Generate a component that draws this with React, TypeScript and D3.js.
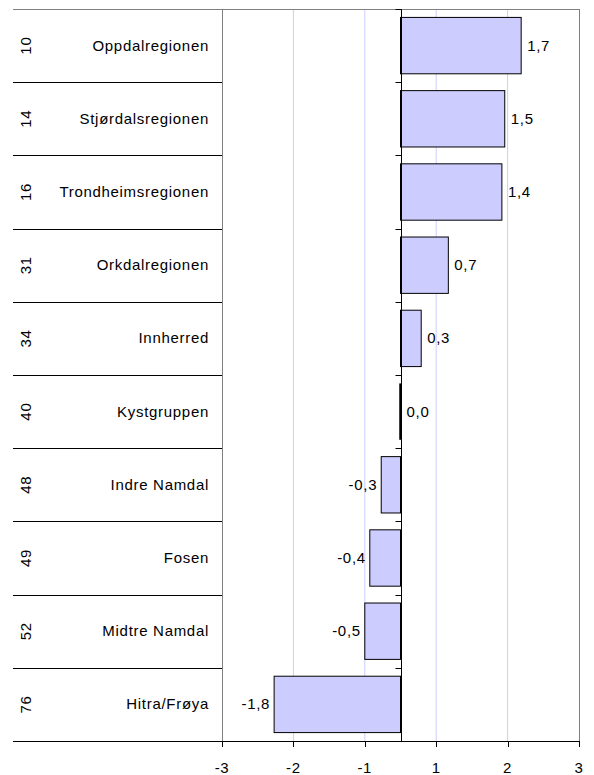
import React, { useEffect, useRef } from 'react';
import * as d3 from 'd3';

const codes = ['10', '14', '16', '31', '34', '40', '48', '49', '52', '76'];
const regions = [
  'Oppdalregionen',
  'Stjørdalsregionen',
  'Trondheimsregionen',
  'Orkdalregionen',
  'Innherred',
  'Kystgruppen',
  'Indre Namdal',
  'Fosen',
  'Midtre Namdal',
  'Hitra/Frøya',
];
const values = [1.69, 1.46, 1.42, 0.67, 0.29, 0.0, -0.27, -0.43, -0.5, -1.77];
const xTicks = [-2.5, -1.5, -0.5, 0.5, 1.5, 2.5];
const gridTicks = [-1.5, -0.5, 0.5, 1.5];

const W = 594;
const H = 775;
const FONT = '"Liberation Sans", Arial, sans-serif';

// Excel-style rounding (half away from zero), comma as decimal sign
const fmtValue = (v: number) => {
  const r = Math.sign(v) * Math.round(Math.abs(v) * 10) / 10;
  return r.toFixed(1).replace('.', ',');
};
const fmtTick = (v: number) => String(Math.sign(v) * Math.round(Math.abs(v)));

const App = () => {
  const svgRef = useRef<SVGSVGElement>(null);

  useEffect(() => {
    const svg = d3.select(svgRef.current);
    svg.selectAll('*').remove();

    const plot = { left: 222, right: 579, top: 9, bottom: 741 };
    const tableLeft = 13;

    const x = d3.scaleLinear().domain([-2.5, 2.5]).range([plot.left, plot.right]);
    const y = d3.scaleBand<string>()
      .domain(regions)
      .range([plot.top, plot.bottom])
      .paddingInner(0.23)
      .paddingOuter(0.115);
    const step = y.step();
    const boundaries = d3.range(regions.length + 1).map(i => plot.top + i * step);

    svg.append('rect').attr('width', W).attr('height', H).attr('fill', '#fff');

    // gridlines
    svg.append('g')
      .selectAll('line')
      .data(gridTicks)
      .enter().append('line')
      .attr('x1', d => x(d)).attr('x2', d => x(d))
      .attr('y1', plot.top).attr('y2', plot.bottom)
      .attr('stroke', '#ccccff')
      .attr('stroke-width', 1);

    // plot frame
    svg.append('line')
      .attr('x1', tableLeft).attr('x2', plot.right)
      .attr('y1', plot.top + 0.5).attr('y2', plot.top + 0.5)
      .attr('stroke', '#808080');
    svg.append('line')
      .attr('x1', plot.left + 0.5).attr('x2', plot.left + 0.5)
      .attr('y1', plot.top).attr('y2', plot.bottom)
      .attr('stroke', '#808080');
    svg.append('line')
      .attr('x1', plot.right + 0.5).attr('x2', plot.right + 0.5)
      .attr('y1', plot.top).attr('y2', plot.bottom)
      .attr('stroke', '#808080');

    // table row separators on the left
    svg.append('g')
      .selectAll('line')
      .data(boundaries.slice(1))
      .enter().append('line')
      .attr('x1', tableLeft).attr('x2', plot.left)
      .attr('y1', d => Math.round(d) + 0.5).attr('y2', d => Math.round(d) + 0.5)
      .attr('stroke', '#000');

    // bars
    const bars = svg.append('g');
    regions.forEach((r, i) => {
      const v = values[i];
      const x0 = x(Math.min(0, v));
      const x1 = x(Math.max(0, v));
      const yb = y(r) as number;
      if (x1 - x0 > 0.5) {
        bars.append('rect')
          .attr('x', x0).attr('y', yb)
          .attr('width', x1 - x0).attr('height', y.bandwidth())
          .attr('fill', '#ccccff')
          .attr('stroke', '#000')
          .attr('stroke-width', 1);
      } else {
        bars.append('line')
          .attr('x1', x(0)).attr('x2', x(0))
          .attr('y1', yb).attr('y2', yb + y.bandwidth())
          .attr('stroke', '#000')
          .attr('stroke-width', 2.5);
      }
    });

    // zero (category) axis with ticks pointing left
    const x0 = Math.round(x(0)) + 0.5;
    svg.append('line')
      .attr('x1', x0).attr('x2', x0)
      .attr('y1', plot.top).attr('y2', plot.bottom)
      .attr('stroke', '#000');
    svg.append('g')
      .selectAll('line')
      .data(boundaries)
      .enter().append('line')
      .attr('x1', x0 - 6).attr('x2', x0)
      .attr('y1', d => Math.round(d) + 0.5).attr('y2', d => Math.round(d) + 0.5)
      .attr('stroke', '#000');

    // bottom axis
    svg.append('line')
      .attr('x1', tableLeft).attr('x2', plot.right + 1)
      .attr('y1', plot.bottom + 0.5).attr('y2', plot.bottom + 0.5)
      .attr('stroke', '#000');
    const axis = svg.append('g');
    axis.selectAll('line')
      .data(xTicks)
      .enter().append('line')
      .attr('x1', d => Math.round(x(d)) + 0.5).attr('x2', d => Math.round(x(d)) + 0.5)
      .attr('y1', plot.bottom).attr('y2', plot.bottom + 6)
      .attr('stroke', '#000');
    axis.selectAll('text')
      .data(xTicks)
      .enter().append('text')
      .attr('x', d => x(d))
      .attr('y', 773)
      .attr('text-anchor', 'middle')
      .text(d => fmtTick(d));

    // category labels
    const labels = svg.append('g');
    regions.forEach((r, i) => {
      const cy = (y(r) as number) + y.bandwidth() / 2;
      labels.append('text')
        .attr('transform', `translate(31,${cy}) rotate(-90)`)
        .attr('text-anchor', 'middle')
        .text(codes[i]);
      labels.append('text')
        .attr('x', 209)
        .attr('y', cy + 5)
        .attr('text-anchor', 'end')
        .text(r);
    });

    // value labels
    const vals = svg.append('g');
    regions.forEach((r, i) => {
      const v = values[i];
      const cy = (y(r) as number) + y.bandwidth() / 2;
      const neg = v < 0;
      vals.append('text')
        .attr('x', neg ? x(v) - 4 : x(v) + 6)
        .attr('y', cy + 5)
        .attr('text-anchor', neg ? 'end' : 'start')
        .text(fmtValue(v));
    });

    svg.selectAll('text')
      .attr('font-family', FONT)
      .attr('font-size', 15)
      .attr('letter-spacing', '0.7px')
      .attr('fill', '#000');
  }, []);

  return (
    <svg
      ref={svgRef}
      width={W}
      height={H}
      style={{ position: 'absolute', left: 0, top: 0 }}
    />
  );
};

export default App;
